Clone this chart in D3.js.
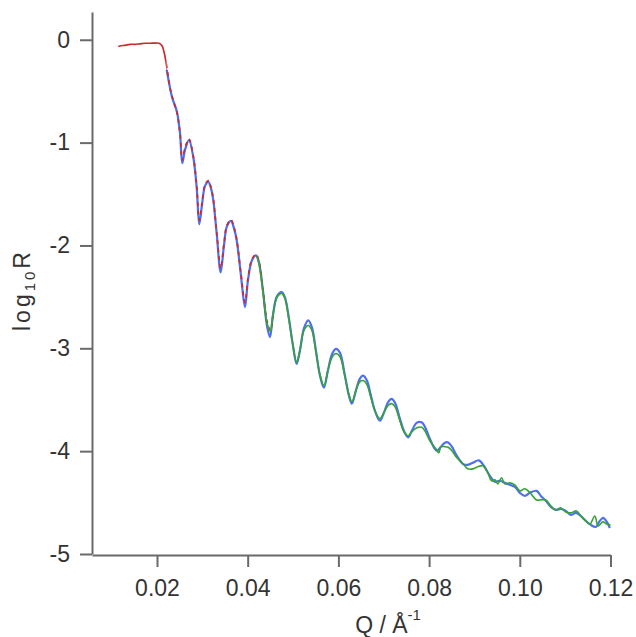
<!DOCTYPE html>
<html>
<head>
<meta charset="utf-8">
<script src="https://cdn.jsdelivr.net/npm/d3@7"></script>
<style>
  html, body { margin: 0; padding: 0; background: #ffffff; }
  svg { display: block; }
</style>
</head>
<body>
<div id="chart"></div>
<script>
// ---------- data ----------
const xTicks = [0.02, 0.04, 0.06, 0.08, 0.10, 0.12];
const yTicks = [0, -1, -2, -3, -4, -5];

// red: measured data set 1
const qRed = [0.01147,0.01207,0.01295,0.01405,0.01515,0.01625,0.01736,0.01846,0.01956,0.02044,0.02110,0.02154,0.02198,0.02242,
  0.02287,0.02331,0.02375,0.02441,0.02507,0.02558,0.02617,0.02705,0.02800,0.02875,0.02932,0.02992,0.03058,0.03131,0.03190,
  0.03241,0.03316,0.03404,0.03477,0.03543,0.03631,0.03697,0.03757,0.03851,0.03940,0.04006,0.04094,0.04182,0.04248,0.04336,
  0.04424,0.04502,0.04557];
const rRed = [-0.065,-0.058,-0.054,-0.044,-0.044,-0.039,-0.034,-0.034,-0.032,-0.034,-0.058,-0.117,-0.214,-0.341,
  -0.468,-0.546,-0.614,-0.711,-0.906,-1.170,-1.053,-0.965,-1.131,-1.423,-1.754,-1.589,-1.413,-1.369,-1.433,
  -1.550,-1.871,-2.222,-1.988,-1.803,-1.750,-1.823,-1.940,-2.271,-2.554,-2.320,-2.135,-2.086,-2.154,-2.427,
  -2.729,-2.827,-2.690];

// blue: model fit
const qBlue = [0.02214,0.02287,0.02331,0.02375,0.02441,0.02507,0.02558,0.02617,0.02705,0.02800,0.02875,0.02932,0.02992,0.03058,
  0.03131,0.03190,0.03241,0.03316,0.03404,0.03477,0.03543,0.03631,0.03697,0.03757,0.03851,0.03940,0.04006,0.04094,0.04182,
  0.04248,0.04336,0.04424,0.04491,0.04557,0.04645,0.04749,0.04821,0.04909,0.04998,0.05079,0.05152,0.05240,0.05335,0.05416,
  0.05504,0.05593,0.05681,0.05769,0.05857,0.05945,0.06033,0.06144,0.06232,0.06298,0.06386,0.06474,0.06547,0.06629,0.06717,
  0.06805,0.06915,0.07003,0.07091,0.07173,0.07246,0.07356,0.07444,0.07539,0.07620,0.07731,0.07834,0.07907,0.08017,0.08165,
  0.08260,0.08348,0.08421,0.08502,0.08612,0.08751,0.08855,0.08965,0.09097,0.09207,0.09340,0.09450,0.09560,0.09670,0.09780,
  0.09891,0.10001,0.10111,0.10221,0.10369,0.10464,0.10574,0.10684,0.10794,0.10905,0.11015,0.11125,0.11235,0.11345,0.11456,
  0.11566,0.11676,0.11764,0.11837,0.11919,0.11985];
const rBlue = [-0.292,-0.468,-0.556,-0.614,-0.702,-0.906,-1.199,-1.072,-0.975,-1.140,-1.433,-1.793,-1.608,-1.423,
  -1.381,-1.442,-1.559,-1.881,-2.261,-1.998,-1.813,-1.761,-1.832,-1.949,-2.290,-2.599,-2.339,-2.144,-2.096,
  -2.164,-2.437,-2.778,-2.892,-2.680,-2.495,-2.453,-2.505,-2.710,-2.973,-3.151,-3.021,-2.807,-2.729,-2.797,
  -3.021,-3.265,-3.382,-3.216,-3.060,-3.005,-3.041,-3.265,-3.460,-3.538,-3.411,-3.294,-3.265,-3.314,-3.460,
  -3.606,-3.704,-3.626,-3.528,-3.492,-3.528,-3.684,-3.801,-3.866,-3.801,-3.723,-3.720,-3.762,-3.879,-3.996,
  -3.957,-3.918,-3.915,-3.957,-4.045,-4.126,-4.133,-4.113,-4.089,-4.142,-4.240,-4.298,-4.288,-4.308,-4.327,
  -4.347,-4.405,-4.435,-4.405,-4.386,-4.435,-4.483,-4.542,-4.571,-4.561,-4.581,-4.620,-4.600,-4.630,-4.678,
  -4.717,-4.737,-4.678,-4.649,-4.688,-4.747];

// green: measured data set 2
const qGreen = [0.04204,0.04248,0.04336,0.04424,0.04502,0.04557,0.04645,0.04749,0.04821,0.04909,0.04998,0.05079,0.05152,0.05240,
  0.05335,0.05416,0.05504,0.05593,0.05681,0.05769,0.05857,0.05945,0.06033,0.06144,0.06232,0.06298,0.06386,0.06474,0.06547,
  0.06629,0.06717,0.06805,0.06915,0.07003,0.07091,0.07173,0.07246,0.07356,0.07444,0.07539,0.07620,0.07731,0.07834,0.07907,
  0.08017,0.08165,0.08215,0.08260,0.08348,0.08421,0.08502,0.08612,0.08751,0.08855,0.08965,0.09075,0.09185,0.09296,0.09377,
  0.09450,0.09516,0.09597,0.09670,0.09780,0.09891,0.10001,0.10111,0.10221,0.10369,0.10464,0.10574,0.10684,0.10794,0.10905,
  0.11015,0.11125,0.11250,0.11360,0.11456,0.11544,0.11654,0.11727,0.11831,0.11912,0.12000];
const rGreen = [-2.105,-2.174,-2.446,-2.749,-2.836,-2.671,-2.505,-2.466,-2.515,-2.719,-2.973,-3.138,-3.021,-2.827,
  -2.778,-2.827,-3.031,-3.255,-3.363,-3.216,-3.090,-3.051,-3.080,-3.275,-3.450,-3.519,-3.411,-3.324,-3.314,
  -3.353,-3.480,-3.606,-3.684,-3.626,-3.558,-3.538,-3.567,-3.704,-3.811,-3.850,-3.811,-3.772,-3.767,-3.801,
  -3.899,-3.986,-4.016,-3.957,-3.957,-3.962,-3.996,-4.064,-4.123,-4.172,-4.172,-4.152,-4.142,-4.211,-4.289,
  -4.279,-4.318,-4.259,-4.318,-4.308,-4.327,-4.386,-4.366,-4.402,-4.474,-4.474,-4.474,-4.532,-4.571,-4.552,
  -4.591,-4.600,-4.581,-4.639,-4.678,-4.711,-4.630,-4.727,-4.688,-4.708,-4.717];

// ---------- drawing ----------
const W = 636, H = 637;
const FONT = "'Liberation Sans', Arial, sans-serif";
const svg = d3.select("#chart").append("svg").attr("width", W).attr("height", H);

const x = d3.scaleLinear().domain([0.00567, 0.12]).range([92, 610.5]);
const y = d3.scaleLinear().domain([-5, 0.27]).range([554, 12]);

const zipSeries = (qs, rs) => qs.map((q, i) => [q, rs[i]]);
const line = d3.line().x(d => x(d[0])).y(d => y(d[1])).curve(d3.curveCatmullRom.alpha(0.5));

const RED = "#cc2b2b", BLUE = "#4d6ff0", GREEN = "#35a335";

// clip regions: where the red data overlaps the fit it is drawn dashed
const blueStart = x(qBlue[0]);
const defs = svg.append("defs");
defs.append("clipPath").attr("id", "clipSolid").append("rect")
  .attr("x", 0).attr("y", 0).attr("width", blueStart).attr("height", H);
defs.append("clipPath").attr("id", "clipDash").append("rect")
  .attr("x", blueStart).attr("y", 0).attr("width", W - blueStart).attr("height", H);

const plot = svg.append("g");
const redData = zipSeries(qRed, rRed);

plot.append("path").attr("d", line(zipSeries(qBlue, rBlue)))
  .attr("fill", "none").attr("stroke", BLUE).attr("stroke-width", 2.2)
  .attr("stroke-linejoin", "round");

plot.append("path").attr("d", line(redData)).attr("clip-path", "url(#clipSolid)")
  .attr("fill", "none").attr("stroke", RED).attr("stroke-width", 1.7)
  .attr("stroke-linejoin", "round");
plot.append("path").attr("d", line(redData)).attr("clip-path", "url(#clipDash)")
  .attr("fill", "none").attr("stroke", RED).attr("stroke-width", 1.7)
  .attr("stroke-dasharray", "4,4").attr("stroke-linejoin", "round");

plot.append("path").attr("d", line(zipSeries(qGreen, rGreen)))
  .attr("fill", "none").attr("stroke", GREEN).attr("stroke-width", 1.6)
  .attr("stroke-linejoin", "round");

// axes
const axisColor = "#6a6a6a";
const textColor = "#333333";

const xAxis = svg.append("g").attr("transform", "translate(0,555)")
  .call(d3.axisBottom(x).tickValues(xTicks).tickFormat(d3.format(".2f")).tickSize(12).tickSizeOuter(0).tickPadding(13));
const yAxis = svg.append("g").attr("transform", "translate(92,0)")
  .call(d3.axisLeft(y).tickValues(yTicks).tickFormat(d => String(d)).tickSize(12).tickSizeOuter(0).tickPadding(10));

[xAxis, yAxis].forEach(g => {
  g.select(".domain").attr("stroke", axisColor).attr("stroke-width", 2);
  g.selectAll(".tick line").attr("stroke", axisColor).attr("stroke-width", 2);
  g.selectAll(".tick text").attr("fill", textColor).attr("font-size", 23).attr("font-family", FONT);
});

// axis titles
const xt = svg.append("text")
  .attr("x", 388).attr("y", 633)
  .attr("text-anchor", "middle")
  .attr("font-family", FONT).attr("font-size", 23).attr("fill", textColor);
xt.append("tspan").text("Q / Å");
xt.append("tspan").attr("font-size", 15).attr("dy", -13).text("-1");

const yt = svg.append("text")
  .attr("transform", "translate(30,290) rotate(-90)")
  .attr("text-anchor", "middle")
  .attr("font-family", FONT).attr("font-size", 23).attr("fill", textColor)
  .attr("letter-spacing", 3);
yt.append("tspan").text("log");
yt.append("tspan").attr("font-size", 15).attr("dy", 5).text("10");
yt.append("tspan").attr("dy", -5).text("R");
</script>
</body>
</html>
